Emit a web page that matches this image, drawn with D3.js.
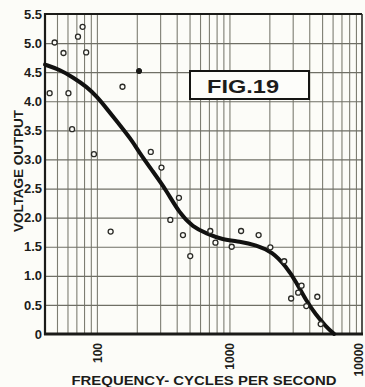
<!DOCTYPE html>
<html><head><meta charset="utf-8">
<script src="https://cdn.jsdelivr.net/npm/d3@7"></script>
<style>
html,body{margin:0;padding:0;background:#fcfcf8;}
svg{display:block;}
text{font-family:"Liberation Sans",Arial,sans-serif;fill:#1c1c1a;}
</style></head>
<body>
<script>
// Measured points (frequency in cycles per second, voltage output)
const pointFreq = [44, 48, 56, 61, 65, 72, 78, 83, 95, 127, 156, 255, 307, 358, 416, 446, 506, 717, 784, 1040, 1224, 1660, 2035, 2590, 2920, 3300, 3500, 3800, 4600, 4880];
const pointVolt = [4.14, 5.01, 4.83, 4.14, 3.52, 5.11, 5.28, 4.84, 3.09, 1.76, 4.25, 3.13, 2.86, 1.96, 2.34, 1.70, 1.34, 1.77, 1.57, 1.50, 1.77, 1.70, 1.49, 1.25, 0.61, 0.71, 0.83, 0.48, 0.64, 0.17];
const filledFreq = [208];
const filledVolt = [4.52];
// Smoothed response curve
const curveFreq = [40.6, 53, 66, 84, 100, 118, 149, 186, 210, 263, 334, 421, 530, 668, 886, 1195, 1590, 2110, 2670, 3180, 3770, 4490, 5340, 6170];
const curveVolt = [4.63, 4.54, 4.41, 4.25, 4.08, 3.88, 3.59, 3.31, 3.11, 2.80, 2.47, 2.07, 1.84, 1.73, 1.62, 1.59, 1.53, 1.41, 1.16, 0.90, 0.58, 0.33, 0.13, 0.0];
// Axis ticks
const xTickLabels = [100, 1000, 10000];
const yTickValues = [0, 0.5, 1.0, 1.5, 2.0, 2.5, 3.0, 3.5, 4.0, 4.5, 5.0, 5.5];
const xDomain = [40.6, 10000];
const yDomain = [0, 5.5];
const xTitle = "FREQUENCY- CYCLES PER SECOND";
const yTitle = "VOLTAGE OUTPUT";
const figLabel = "FIG.19";

const W = 365, H = 387;
const L = 45, R = 362, T = 14, B = 334;
const svg = d3.select("body").append("svg").attr("width", W).attr("height", H);
svg.append("rect").attr("width", W).attr("height", H).attr("fill", "#fcfcf8");

const x = d3.scaleLog().domain(xDomain).range([L, R]);
const y = d3.scaleLinear().domain(yDomain).range([B, T]);

// vertical grid: 50..90, 100..900, 1000..10000
const gridX = [];
[10, 100, 1000].forEach(d => { for (let k = 1; k <= 9; k++) { const v = d * k; if (v > xDomain[0] && v < xDomain[1]) gridX.push(v); } });
const gx = svg.append("g").attr("transform", `translate(0,${B})`)
  .call(d3.axisBottom(x).tickValues(gridX).tickSize(-(B - T)).tickFormat(""));
gx.select(".domain").remove();
gx.selectAll("line").attr("stroke", "#7d7d72").attr("stroke-width", 1.1);

const gy = svg.append("g").attr("transform", `translate(${L},0)`)
  .call(d3.axisLeft(y).tickValues(yTickValues.filter(v => v > 0 && v < 5.5)).tickSize(-(R - L)).tickFormat(""));
gy.select(".domain").remove();
gy.selectAll("line").attr("stroke", "#6f6f66").attr("stroke-width", 1.2);

// frame
svg.append("line").attr("x1", L).attr("x2", R).attr("y1", T).attr("y2", T).attr("stroke", "#1a1a18").attr("stroke-width", 2);
svg.append("line").attr("x1", R).attr("x2", R).attr("y1", T).attr("y2", B).attr("stroke", "#2a2a26").attr("stroke-width", 1.6);
svg.append("line").attr("x1", L).attr("x2", L).attr("y1", T - 1).attr("y2", B + 1).attr("stroke", "#1a1a18").attr("stroke-width", 2.2);
svg.append("line").attr("x1", L - 1).attr("x2", R + 1).attr("y1", B).attr("y2", B).attr("stroke", "#1a1a18").attr("stroke-width", 3);

// y tick labels
const yl = svg.append("g").attr("transform", `translate(${L},0)`)
  .call(d3.axisLeft(y).tickValues(yTickValues).tickSize(0).tickPadding(3)
    .tickFormat(d => d === 0 ? "0" : d3.format(".1f")(d)));
yl.select(".domain").remove();
yl.selectAll("text").attr("font-size", 13).attr("font-weight", "bold")
  .attr("font-family", "'Liberation Sans',Arial,sans-serif").attr("fill", "#1c1c1a");

// x tick labels (rotated)
const xl = svg.append("g").attr("transform", `translate(0,${B})`)
  .call(d3.axisBottom(x).tickValues(xTickLabels).tickSize(0).tickFormat(d3.format("d")));
xl.select(".domain").remove();
xl.selectAll("text").attr("font-size", 12).attr("font-weight", "bold")
  .attr("font-family", "'Liberation Sans',Arial,sans-serif").attr("fill", "#1c1c1a")
  .attr("text-anchor", "end").attr("transform", "rotate(-90)")
  .attr("x", -9).attr("y", d => d === 10000 ? -4 : 0).attr("dy", "0.35em");

// titles
svg.append("text").attr("x", 204).attr("y", 385).attr("text-anchor", "middle")
  .attr("font-size", 13).attr("font-weight", "bold")
  .attr("textLength", 265).attr("lengthAdjust", "spacingAndGlyphs").text(xTitle);
svg.append("text").attr("transform", "translate(23,171) rotate(-90)").attr("text-anchor", "middle")
  .attr("font-size", 13).attr("font-weight", "bold")
  .attr("textLength", 122).attr("lengthAdjust", "spacingAndGlyphs").text(yTitle);

// FIG label box
svg.append("rect").attr("x", 190).attr("y", 71).attr("width", 119).attr("height", 28)
  .attr("fill", "#fdfdfa").attr("stroke", "#151513").attr("stroke-width", 2);
svg.append("text").attr("x", 207).attr("y", 93).attr("font-size", 19).attr("font-weight", "bold")
  .attr("textLength", 72).attr("lengthAdjust", "spacingAndGlyphs").text(figLabel);

// curve
const line = d3.line().x(d => x(d[0])).y(d => y(d[1])).curve(d3.curveBasis);
svg.append("path").datum(curveFreq.map((f, i) => [f, curveVolt[i]]))
  .attr("d", line).attr("fill", "none").attr("stroke", "#111110").attr("stroke-width", 4).attr("stroke-linecap", "round");

// points
svg.append("g").selectAll("circle").data(pointFreq.map((f, i) => [f, pointVolt[i]])).join("circle")
  .attr("cx", d => x(d[0])).attr("cy", d => y(d[1])).attr("r", 2.5)
  .attr("fill", "#fcfcf8").attr("stroke", "#2a2a26").attr("stroke-width", 1.3);
svg.append("g").selectAll("circle").data(filledFreq.map((f, i) => [f, filledVolt[i]])).join("circle")
  .attr("cx", d => x(d[0])).attr("cy", d => y(d[1])).attr("r", 2.6)
  .attr("fill", "#1a1a18").attr("stroke", "#1a1a18").attr("stroke-width", 1);
</script>
</body></html>
